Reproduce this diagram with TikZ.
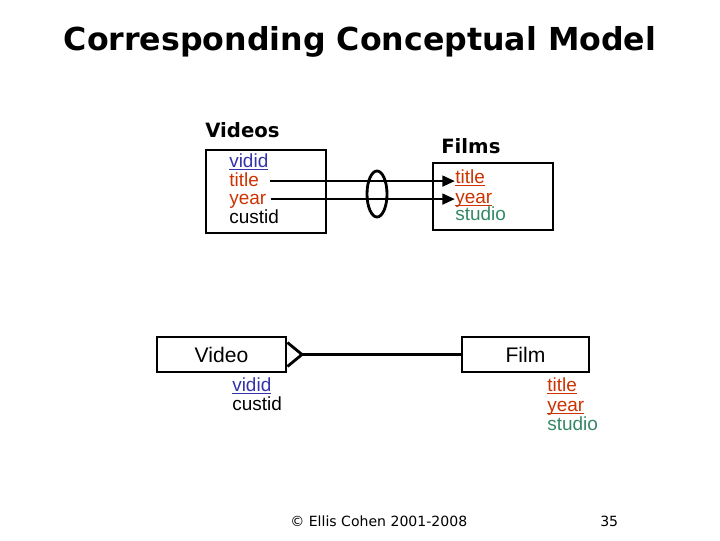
\documentclass[tikz,border=0pt]{standalone}
\usepackage{fontspec}
\setmainfont{Liberation Sans}
\newfontfamily\headfont{DejaVu Sans}
\usetikzlibrary{arrows.meta,shapes.geometric}
\definecolor{keyblue}{RGB}{51,51,170}
\definecolor{keyred}{RGB}{204,51,0}
\definecolor{plaingreen}{RGB}{51,136,102}
\newcommand\keyattr[1]{\underline{\smash{#1}}}
\tikzset{
  box/.style={draw,line width=2pt,inner sep=0pt},
  attr/.style={anchor=base west,inner sep=0pt,text height=10pt,text depth=3pt,
    font=\fontsize{13.5}{14}\selectfont},
  tabname/.style={anchor=west,inner sep=0pt,font=\headfont\bfseries\fontsize{14}{15}\selectfont},
  link/.style={line width=2pt,-{Triangle[length=9pt,width=7.5pt]}}
}
\begin{document}
\begin{tikzpicture}[x=0.025cm,y=-0.025cm]
  \useasboundingbox (0,0) rectangle (720,540);
  \node[font=\headfont\bfseries\fontsize{22.5}{24}\selectfont] (heading) at (360,42)
    {Corresponding Conceptual Model};

  % relational tables
  \node[tabname] (videoslbl) at (205,130) {Videos};
  \node[box,minimum width=3cm,minimum height=2.075cm] (videos) at (266,191.5) {};
  \node[attr,keyblue] (vvidid) at (229,167) {\keyattr{vidid}};
  \node[attr,keyred] (vtitle) at (229,186) {title};
  \node[attr,keyred] (vyear) at (229,204) {year};
  \node[attr] (vcustid) at (229,223) {custid};

  \node[tabname] (filmslbl) at (441,146) {Films};
  \node[box,minimum width=3cm,minimum height=1.675cm] (films) at (493,196.5) {};
  \node[attr,keyred] (ftitle) at (455,183) {\keyattr{title}};
  \node[attr,keyred] (fyear) at (455,203) {\keyattr{year}};
  \node[attr,plaingreen] (fstudio) at (455,220) {studio};

  \draw[link] ([xshift=8pt]vtitle.east) -- (vtitle.east -| ftitle.west);
  \draw[link] ([xshift=3pt]vyear.east) -- (vyear.east -| fyear.west);
  \node[draw,ellipse,line width=2pt,inner sep=0pt,minimum width=0.5cm,minimum height=1.15cm]
    (fkgroup) at (377,194) {};

  % entities
  \node[box,minimum width=3.225cm,minimum height=0.875cm,font=\fontsize{15}{16}\selectfont]
    (video) at (221.5,354.5) {Video};
  \node[box,minimum width=3.175cm,minimum height=0.875cm,font=\fontsize{15}{16}\selectfont]
    (film) at (525.5,354.5) {Film};
  \coordinate (crow) at (302,354.5);
  \draw[line width=2pt] ([yshift=8.5pt]video.east) -- (crow) -- ([yshift=-8.5pt]video.east);
  \draw[line width=2pt] (crow) -- (film.west);

  \node[attr,keyblue] (evidid) at (232,391) {\keyattr{vidid}};
  \node[attr] (ecustid) at (232,410) {custid};
  \node[attr,keyred] (etitle) at (547,391) {\keyattr{title}};
  \node[attr,keyred] (eyear) at (547,411) {\keyattr{year}};
  \node[attr,plaingreen] (estudio) at (547,430) {studio};

  \node[anchor=west,inner sep=0pt,font=\headfont\fontsize{10}{12}\selectfont] (credit) at (290,521)
    {© Ellis Cohen 2001-2008};
  \node[anchor=west,inner sep=0pt,font=\headfont\fontsize{10}{12}\selectfont] (pageno) at (600,521) {35};
\end{tikzpicture}
\end{document}
